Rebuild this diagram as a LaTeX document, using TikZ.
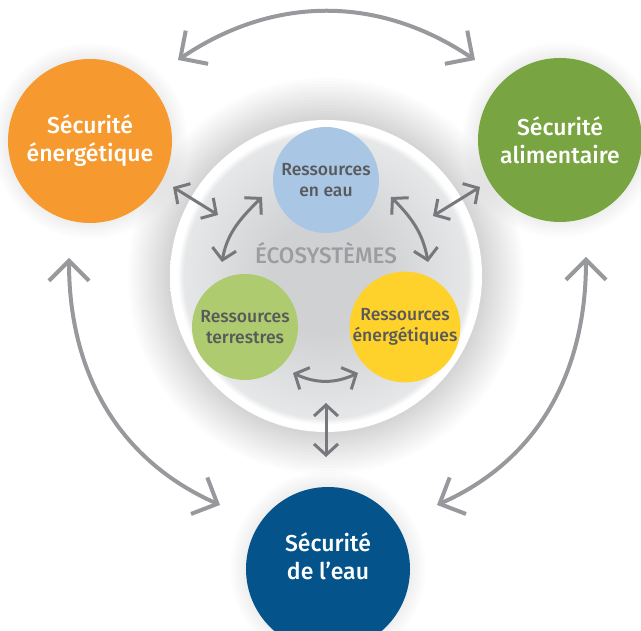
\documentclass[tikz,border=0pt]{standalone}
\usepackage{fontspec}
\setmainfont{Fira Sans}[BoldFont={Fira Sans Medium}]
\usetikzlibrary{arrows.meta}

\definecolor{secorange}{HTML}{F6992F}
\definecolor{secgreen}{HTML}{78A441}
\definecolor{secblue}{HTML}{04538A}
\definecolor{reswater}{HTML}{A9C6E4}
\definecolor{resland}{HTML}{AECB6F}
\definecolor{resenergy}{HTML}{FED22A}
\definecolor{restext}{HTML}{58595B}
\definecolor{ecotext}{HTML}{9C9DA0}
\definecolor{ecoin}{HTML}{D0D1D3}
\definecolor{ecomid}{HTML}{E6E7E8}
\definecolor{arrowgray}{HTML}{98999D}
\definecolor{arrowdark}{HTML}{77787B}

\pgfdeclareradialshading{ecoshade}{\pgfpoint{0bp}{0bp}}{color(0bp)=(ecoin); color(9bp)=(ecoin); color(22.8bp)=(ecomid); color(23.8bp)=(white); color(25bp)=(white); color(50bp)=(white)}

\begin{document}
\begin{tikzpicture}[x=1pt,y=1pt,
		bigdisc/.style={circle, minimum size=164pt, inner sep=0pt, text=white, align=center, font=\fontsize{23}{28}\selectfont\bfseries},
		resdisc/.style={circle, minimum size=106pt, inner sep=0pt, text=restext, align=center, font=\fontsize{17.5}{21}\selectfont\bfseries},
		outarrow/.style={draw=arrowgray, line width=4pt, {Straight Barb[length=20pt,width=40pt]}-{Straight Barb[length=20pt,width=40pt]}},
		inarrow/.style={draw=arrowdark, line width=3pt, {Straight Barb[length=11pt,width=24pt]}-{Straight Barb[length=11pt,width=24pt]}}]
		\useasboundingbox (0,0) rectangle (641,631);
		
		% soft shadows
		\foreach \i in {1,...,14}
			\fill[black, opacity=0.01] (326,355) circle (156+3*\i);
		\foreach \c in {(90,490),(560,491),(328,62)}
			\foreach \i in {1,...,8}
				\fill[black, opacity=0.008] \c circle (82+2*\i);
		
		% ecosystems
		\shade[shading=ecoshade] (326,355) circle (156);
		\node[text=ecotext, font=\fontsize{22.5}{22.5}\selectfont\bfseries] (ecolab) at (326,378) {ÉCOSYSTÈMES};
		
		\node[resdisc, fill=reswater] (water) at (326,451) {Ressources\\en eau};
		\node[resdisc, fill=resland] (land) at (245,304) {Ressources\\terrestres};
		\node[resdisc, fill=resenergy] (energy) at (405,304) {Ressources\\énergétiques};
		
		\node[bigdisc, fill=secorange] (ensec) at (90,490) {Sécurité\\énergétique};
		\node[bigdisc, fill=secgreen] (foodsec) at (560,491) {Sécurité\\alimentaire};
		\node[bigdisc, fill=secblue] (watsec) at (328,62) {};
		\node[text=white, align=center, font=\fontsize{23}{28}\selectfont\bfseries] (watlab) at (328,75) {Sécurité\\de l’eau};
		
		% arrow ends
		\coordinate (topL) at (178,571);
		\coordinate (topR) at (475,571);
		\coordinate (lftT) at (69,373);
		\coordinate (lftB) at (220,126);
		\coordinate (rgtT) at (586,374);
		\coordinate (rgtB) at (437,126);
		\coordinate (ensecE) at (173,444);
		\coordinate (ecoW) at (218,416);
		\coordinate (foodsecW) at (480,444);
		\coordinate (ecoE) at (433,415);
		\coordinate (landN) at (222,369);
		\coordinate (waterSW) at (262,434);
		\coordinate (energyN) at (428,369);
		\coordinate (waterSE) at (391,434);
		\coordinate (landE) at (293,258);
		\coordinate (energyW) at (358,258);
		\coordinate (ecoS) at (326,228);
		\coordinate (watsecN) at (326,174);
		
		\draw[outarrow] (topL) to[out=34, in=146] (topR);
		\draw[outarrow] (lftT) to[out=-90, in=156] (lftB);
		\draw[outarrow] (rgtT) to[out=-90, in=24] (rgtB);
		
		\draw[inarrow] (ensecE) -- (ecoW);
		\draw[inarrow] (foodsecW) -- (ecoE);
		\draw[inarrow] (landN) to[out=80, in=225] (waterSW);
		\draw[inarrow] (energyN) to[out=100, in=-45] (waterSE);
		\draw[inarrow] (landE) to[out=-25, in=205] (energyW);
		\draw[inarrow] (ecoS) -- (watsecN);
		
	\end{tikzpicture}
\end{document}
